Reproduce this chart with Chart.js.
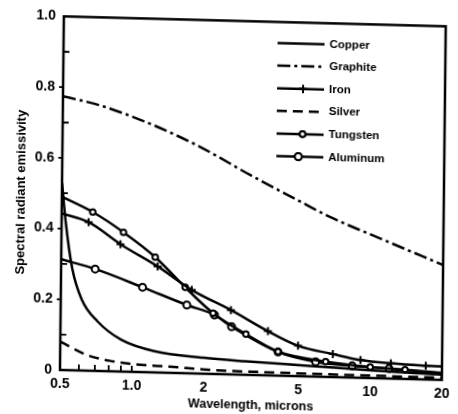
<!DOCTYPE html>
<html>
<head>
<meta charset="utf-8">
<script src="https://cdn.jsdelivr.net/npm/chart.js@4.4.1/dist/chart.umd.min.js"></script>
<style>
    html, body { margin: 0; padding: 0; background: #fff; }
    #wrap { position: relative; width: 458px; height: 414px; overflow: hidden; background: #fff; }
    /* the scanned figure is slightly skewed, so the canvas is too */
    #chart { position: absolute; left: 0; top: 0; transform-origin: 60px 370px; transform: matrix(1, 0.026, -0.011, 1, 0, 0); }
</style>
</head>
<body>
<div id="wrap"><canvas id="chart" width="458" height="414"></canvas></div>
<script>
// Data (wavelength in microns, spectral emissivity)
const seriesNames = ['Copper', 'Graphite', 'Iron', 'Silver', 'Tungsten', 'Aluminum'];

const copperX = [0.5, 0.52, 0.556, 0.613, 0.715, 0.9, 1.24, 2.0, 3.0, 5.6, 10, 20];
const copperY = [0.53, 0.42, 0.29, 0.2, 0.14, 0.09, 0.06, 0.045, 0.038, 0.03, 0.022, 0.015];

const graphiteX = [0.5, 0.716, 1.16, 1.89, 3.08, 4.86, 6.7, 10.9, 20];
const graphiteY = [0.774, 0.751, 0.703, 0.641, 0.565, 0.498, 0.452, 0.395, 0.325];

const ironX = [0.5, 0.649, 0.885, 1.27, 1.77, 2.59, 3.71, 4.97, 6.96, 9.1, 12.2, 17.1, 20];
const ironY = [0.443, 0.42, 0.36, 0.3, 0.236, 0.182, 0.125, 0.086, 0.065, 0.05, 0.043, 0.039, 0.038];

const silverX = [0.5, 0.65, 0.8, 1.0, 1.5, 2.0, 5.0, 10, 20];
const silverY = [0.08, 0.044, 0.03, 0.022, 0.017, 0.012, 0.008, 0.007, 0.006];

const tungstenX = [0.5, 0.675, 0.91, 1.24, 1.66, 2.18, 3.0, 4.1, 6.5, 10, 14, 20];
const tungstenY = [0.49, 0.449, 0.394, 0.326, 0.243, 0.172, 0.115, 0.068, 0.043, 0.031, 0.026, 0.02];

const aluminumX = [0.5, 0.695, 1.1, 1.69, 2.21, 2.61, 4.1, 5.9, 8.4, 12, 20];
const aluminumY = [0.313, 0.288, 0.24, 0.193, 0.167, 0.135, 0.067, 0.042, 0.033, 0.028, 0.018];

const xTicks = [0.5, 1, 2, 5, 10, 20];
const xTickLabels = ['0.5', '1.0', '2', '5', '10', '20'];
const xMinorTicks = [0.6, 0.7, 0.8, 0.9, 1.0];
const yTicks = [0, 0.2, 0.4, 0.6, 0.8, 1.0];
const yTickLabels = ['0', '0.2', '0.4', '0.6', '0.8', '1.0'];
const yMinorTicks = [0.1, 0.3, 0.5, 0.7, 0.9];

const FONT = "'Liberation Sans', Arial, sans-serif";
const NARROW = "'Liberation Sans Narrow', 'Liberation Sans', Arial, sans-serif";

const toPoints = (xs, ys) => xs.map((x, i) => ({ x: x, y: ys[i] }));

// markers on inner points only, the end points carry none
const innerRadius = (r) => (ctx) => {
    const n = ctx.dataset.data.length;
    return (ctx.dataIndex === 0 || ctx.dataIndex === n - 1) ? 0 : r;
};

const baseLine = {
    borderColor: '#000',
    borderWidth: 2.5,
    backgroundColor: '#fff',
    cubicInterpolationMode: 'monotone',
    fill: false,
    pointRadius: 0,
    pointHoverRadius: 0
};

const datasets = [
    { ...baseLine, label: seriesNames[0], data: toPoints(copperX, copperY) },
    { ...baseLine, label: seriesNames[1], data: toPoints(graphiteX, graphiteY), borderDash: [13, 4, 3, 4] },
    { ...baseLine, label: seriesNames[2], data: toPoints(ironX, ironY), pointStyle: 'cross',
      pointRadius: innerRadius(4), pointBorderWidth: 2, markerSize: 4 },
    { ...baseLine, label: seriesNames[3], data: toPoints(silverX, silverY), borderDash: [10, 6] },
    { ...baseLine, label: seriesNames[4], data: toPoints(tungstenX, tungstenY), pointStyle: 'circle',
      pointRadius: innerRadius(2.8), pointBorderWidth: 2, markerSize: 2.8 },
    { ...baseLine, label: seriesNames[5], data: toPoints(aluminumX, aluminumY), pointStyle: 'circle',
      pointRadius: innerRadius(3.5), pointBorderWidth: 2, markerSize: 3.5 }
];

// box frame, inward ticks and the legend inside the plot
const framePlugin = {
    id: 'frame',
    afterDraw(chart) {
        const { ctx, chartArea: a, scales } = chart;
        const xs = scales.x, ys = scales.y;
        ctx.save();
        ctx.strokeStyle = '#000';
        ctx.lineWidth = 2.5;
        ctx.strokeRect(a.left, a.top, a.right - a.left, a.bottom - a.top);

        ctx.lineWidth = 1.8;
        ctx.beginPath();
        yMinorTicks.forEach(v => {
            const y = ys.getPixelForValue(v);
            ctx.moveTo(a.left, y); ctx.lineTo(a.left + 6, y);
        });
        yTicks.slice(1, -1).forEach(v => {
            const y = ys.getPixelForValue(v);
            ctx.moveTo(a.left - 4, y); ctx.lineTo(a.left, y);
        });
        xMinorTicks.forEach(v => {
            const x = xs.getPixelForValue(v);
            ctx.moveTo(x, a.bottom); ctx.lineTo(x, a.bottom - 6);
        });
        ctx.stroke();

        // legend
        const x0 = 274, x1 = 321, tx = 326;
        let ly = 37.5;
        ctx.font = 'bold 11.5px ' + FONT;
        ctx.textBaseline = 'middle';
        ctx.fillStyle = '#000';
        chart.data.datasets.forEach(ds => {
            ctx.save();
            ctx.lineWidth = 2.5;
            ctx.setLineDash(ds.borderDash || []);
            ctx.beginPath();
            ctx.moveTo(x0, ly); ctx.lineTo(x1, ly);
            ctx.stroke();
            ctx.restore();
            if (ds.markerSize) {
                const mx = ds.pointStyle === 'circle' && ds.markerSize > 3 ? 296 : 300;
                ctx.save();
                ctx.lineWidth = 2;
                ctx.fillStyle = '#fff';
                Chart.helpers.drawPoint(ctx, { pointStyle: ds.pointStyle, radius: ds.markerSize, borderWidth: 2, rotation: 0 }, mx, ly);
                ctx.fill();
                ctx.stroke();
                ctx.restore();
            }
            ctx.fillText(ds.label, tx, ly);
            ly += 22.6;
        });
        ctx.restore();
    }
};

new Chart(document.getElementById('chart'), {
    type: 'line',
    data: { datasets: datasets },
    options: {
        responsive: false,
        animation: false,
        devicePixelRatio: 1,
        layout: { padding: { left: 0, top: 16, right: 16, bottom: 0 } },
        plugins: { legend: { display: false }, tooltip: { enabled: false } },
        scales: {
            x: {
                type: 'logarithmic',
                min: 0.5,
                max: 20,
                afterBuildTicks: (scale) => { scale.ticks = xTicks.map(v => ({ value: v })); },
                afterFit: (scale) => { scale.height = 44; },
                grid: { display: false, drawTicks: false },
                border: { display: false },
                ticks: {
                    autoSkip: false,
                    maxRotation: 0,
                    padding: 6,
                    color: '#000',
                    font: { family: NARROW, size: 14, weight: 'bold' },
                    callback: (v, i) => xTickLabels[i]
                },
                title: {
                    display: true,
                    text: 'Wavelength, microns',
                    color: '#000',
                    font: { family: FONT, size: 12.5, weight: 'bold' },
                    padding: { top: 0, bottom: 6 }
                }
            },
            y: {
                min: 0,
                max: 1,
                afterBuildTicks: (scale) => { scale.ticks = yTicks.map(v => ({ value: v })); },
                afterFit: (scale) => { scale.width = 60; },
                grid: { display: false, drawTicks: false },
                border: { display: false },
                ticks: {
                    padding: 8,
                    color: '#000',
                    font: { family: NARROW, size: 14, weight: 'bold' },
                    callback: (v, i) => yTickLabels[i]
                },
                title: {
                    display: true,
                    text: 'Spectral radiant emissivity',
                    color: '#000',
                    font: { family: FONT, size: 13, weight: 'bold' },
                    padding: { top: 12, bottom: 0 }
                }
            }
        }
    },
    plugins: [framePlugin]
});
</script>
</body>
</html>
